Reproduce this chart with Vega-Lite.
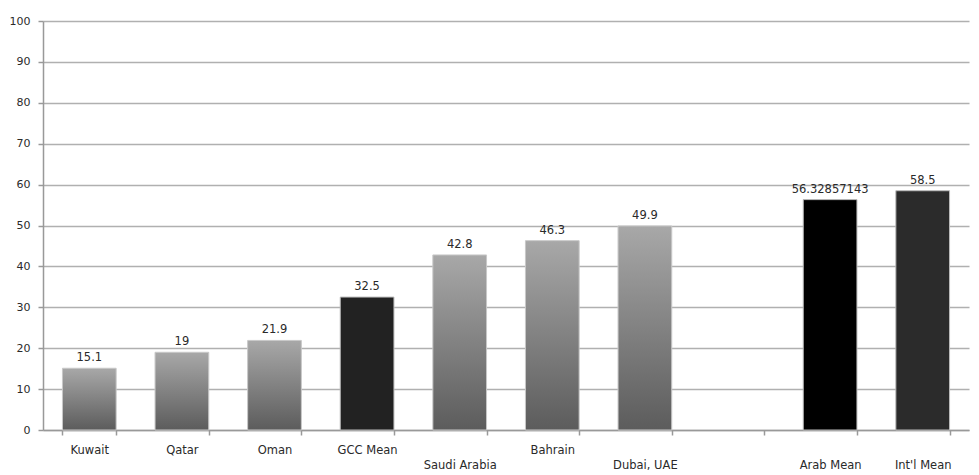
{
  "$schema": "https://vega.github.io/schema/vega-lite/v6.json",
  "width": 926,
  "height": 409,
  "autosize": {"type": "none"},
  "padding": {"left": 43, "top": 21, "right": 10, "bottom": 45},
  "background": "white",
  "config": {
    "view": {"stroke": null},
    "font": "DejaVu Sans",
    "axis": {
      "labelFont": "DejaVu Sans",
      "labelFontSize": 11,
      "labelColor": "#2a2a2a",
      "domainColor": "#999999",
      "domainWidth": 1.5,
      "tickColor": "#999999",
      "tickWidth": 1.5,
      "gridColor": "#b0b0b0",
      "gridWidth": 1.5
    }
  },
  "data": {
    "values": [
      {"category": "Kuwait", "value": 15.1, "label": "15.1"},
      {"category": "Qatar", "value": 19, "label": "19"},
      {"category": "Oman", "value": 21.9, "label": "21.9"},
      {"category": "GCC Mean", "value": 32.5, "label": "32.5"},
      {"category": "Saudi Arabia", "value": 42.8, "label": "42.8"},
      {"category": "Bahrain", "value": 46.3, "label": "46.3"},
      {"category": "Dubai, UAE", "value": 49.9, "label": "49.9"},
      {"category": "Arab Mean", "value": 56.32857143, "label": "56.32857143"},
      {"category": "Int'l Mean", "value": 58.5, "label": "58.5"}
    ]
  },
  "encoding": {
    "x": {
      "field": "category",
      "type": "nominal",
      "scale": {
        "domain": ["Kuwait", "Qatar", "Oman", "GCC Mean", "Saudi Arabia", "Bahrain", "Dubai, UAE", " ", "Arab Mean", "Int'l Mean"],
        "paddingInner": 0.42,
        "paddingOuter": 0.21
      },
      "axis": {
        "title": null,
        "labelAngle": 0,
        "labelFontSize": 11.5,
        "labelPadding": 9,
        "labelLineHeight": 15,
        "labelBaseline": "top",
        "tickSize": 5,
        "tickBand": "extent",
        "grid": false,
        "labelExpr": "indexof(['Saudi Arabia', 'Dubai, UAE', 'Arab Mean', \"Int'l Mean\"], datum.label) >= 0 ? ['', datum.label] : datum.label"
      }
    },
    "y": {
      "field": "value",
      "type": "quantitative",
      "scale": {"domain": [0, 100], "nice": false},
      "axis": {
        "title": null,
        "values": [0, 10, 20, 30, 40, 50, 60, 70, 80, 90, 100],
        "tickSize": 5,
        "labelPadding": 8,
        "grid": true
      }
    }
  },
  "layer": [
    {
      "transform": [{"filter": "indexof(['GCC Mean', 'Arab Mean', \"Int'l Mean\"], datum.category) < 0"}],
      "mark": {
        "type": "bar",
        "stroke": "#c8c8c8",
        "strokeWidth": 1,
        "fill": {
          "gradient": "linear",
          "x1": 0, "y1": 0, "x2": 0, "y2": 1,
          "stops": [
            {"offset": 0, "color": "#a8a8a8"},
            {"offset": 1, "color": "#5c5c5c"}
          ]
        }
      }
    },
    {
      "transform": [{"filter": "indexof(['GCC Mean', 'Arab Mean', \"Int'l Mean\"], datum.category) >= 0"}],
      "mark": {"type": "bar", "stroke": "#bbbbbb", "strokeWidth": 1},
      "encoding": {
        "fill": {
          "field": "category",
          "type": "nominal",
          "scale": {"domain": ["GCC Mean", "Arab Mean", "Int'l Mean"], "range": ["#222222", "#000000", "#2b2b2b"]},
          "legend": null
        }
      }
    },
    {
      "mark": {"type": "text", "baseline": "bottom", "dy": -5, "fontSize": 11.5, "color": "#2a2a2a"},
      "encoding": {"text": {"field": "label", "type": "nominal"}}
    }
  ]
}
